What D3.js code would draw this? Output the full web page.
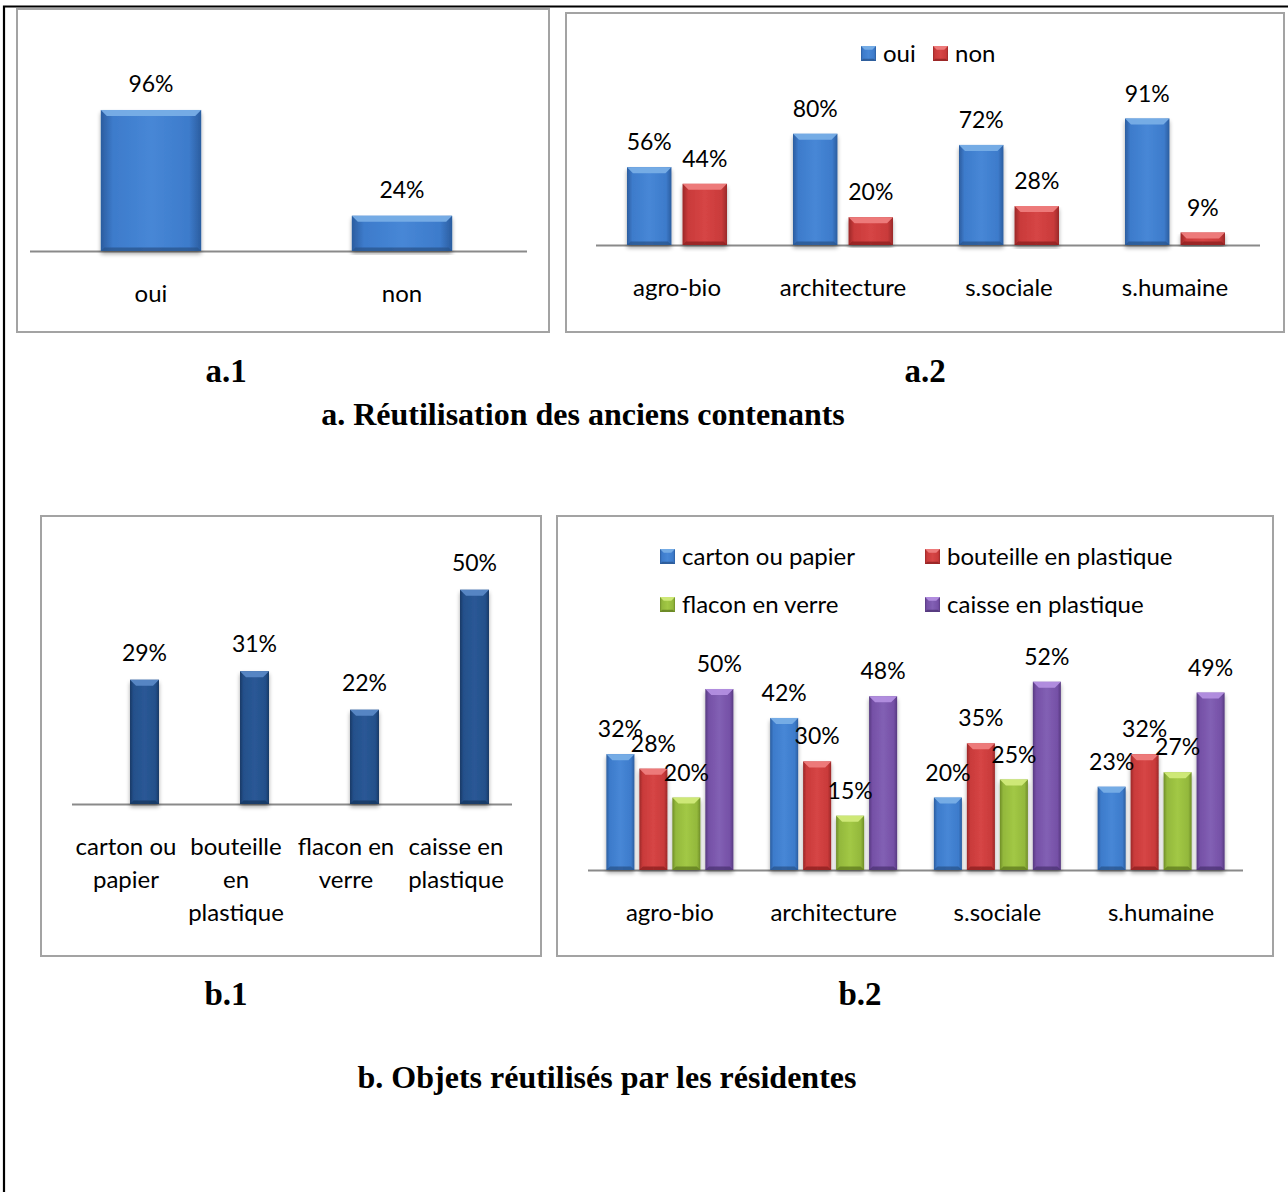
<!DOCTYPE html>
<html>
<head>
<meta charset="utf-8">
<script src="https://cdn.jsdelivr.net/npm/d3@7/dist/d3.min.js"></script>
<style>
html,body{margin:0;padding:0;background:#fff;}
svg{display:block;}
</style>
</head>
<body>
<svg id="chart" width="1288" height="1192"></svg>
<script>
// ---------------- DATA ----------------
const a1Categories = ["oui", "non"];
const a1Values = [96, 24];

const a2Categories = ["agro-bio", "architecture", "s.sociale", "s.humaine"];
const a2Series = ["oui", "non"];
const a2Oui = [56, 80, 72, 91];
const a2Non = [44, 20, 28, 9];

const b1Categories = ["carton ou papier", "bouteille en plastique", "flacon en verre", "caisse en plastique"];
const b1TickLabels = [["carton ou", "papier"], ["bouteille", "en", "plastique"], ["flacon en", "verre"], ["caisse en", "plastique"]];
const b1Values = [29, 31, 22, 50];

const b2Categories = ["agro-bio", "architecture", "s.sociale", "s.humaine"];
const b2Series = ["carton ou papier", "bouteille en plastique", "flacon en verre", "caisse en plastique"];
const b2Carton = [32, 42, 20, 23];
const b2Bouteille = [28, 30, 35, 32];
const b2Flacon = [20, 15, 25, 27];
const b2Caisse = [50, 48, 52, 49];

const captions = ["a.1", "a.2", "a. Réutilisation des anciens contenants", "b.1", "b.2", "b. Objets réutilisés par les résidentes"];

// ---------------- STYLE ----------------
const SANS = "Lato, 'Open Sans', 'DejaVu Sans', sans-serif";
const SERIF = "'Liberation Serif', 'Times New Roman', serif";
const TXT = 24, PCT = 23;
const palettes = {
  blue:   {mid:"#3d7bcb", light:"#4787d6", dark:"#2b5d9f", top:"#78aee6", bottom:"#2a5690"},
  red:    {mid:"#c93a3a", light:"#d64545", dark:"#9a2828", top:"#ee7d7d", bottom:"#8e2222"},
  green:  {mid:"#93b83c", light:"#a2c845", dark:"#6f8d28", top:"#d1ea7a", bottom:"#627d22"},
  purple: {mid:"#7550a6", light:"#8260b4", dark:"#573a80", top:"#b38fe0", bottom:"#4f3575"},
  navy:   {mid:"#24508a", light:"#2a5896", dark:"#183a66", top:"#5a88c6", bottom:"#163660"}
};

const svg = d3.select("#chart");
const defs = svg.append("defs");

Object.entries(palettes).forEach(([k, p]) => {
  const g = defs.append("linearGradient").attr("id", "grad-" + k)
    .attr("x1", "0").attr("x2", "1").attr("y1", "0").attr("y2", "0");
  g.append("stop").attr("offset", "0").attr("stop-color", p.dark);
  g.append("stop").attr("offset", "0.12").attr("stop-color", p.mid);
  g.append("stop").attr("offset", "0.5").attr("stop-color", p.light);
  g.append("stop").attr("offset", "0.88").attr("stop-color", p.mid);
  g.append("stop").attr("offset", "1").attr("stop-color", p.dark);
});
const sh = defs.append("filter").attr("id", "shadow").attr("x", "-20%").attr("y", "-5%").attr("width", "140%").attr("height", "115%");
sh.append("feGaussianBlur").attr("in", "SourceAlpha").attr("stdDeviation", 2.2);
sh.append("feOffset").attr("dx", 0).attr("dy", 3).attr("result", "ob");
sh.append("feComponentTransfer").append("feFuncA").attr("type", "linear").attr("slope", 0.35);
const m = sh.append("feMerge");
m.append("feMergeNode");
m.append("feMergeNode").attr("in", "SourceGraphic");

// Outer page frame
svg.append("path")
  .attr("d", "M4,1192 L4,6.5 L1288,6.5")
  .attr("fill", "none").attr("stroke", "#000").attr("stroke-width", 2.2);

// Panel frames
function panel(x0, y0, x1, y1) {
  svg.append("rect").attr("x", x0).attr("y", y0).attr("width", x1 - x0).attr("height", y1 - y0)
    .attr("fill", "#fff").attr("stroke", "#a3a3a3").attr("stroke-width", 2);
}
panel(17, 9, 549, 332);
panel(566, 13, 1284, 332);
panel(41, 516, 541, 956);
panel(557, 516, 1273, 956);

// Bevelled bar
function bar(g, x, y0, w, base, pal) {
  const h = base - y0;
  const grp = g.append("g").attr("filter", "url(#shadow)");
  grp.append("rect").attr("x", x).attr("y", y0).attr("width", w).attr("height", h)
    .attr("fill", "url(#grad-" + pal + ")");
  const p = palettes[pal];
  const bev = Math.min(6, h / 2, w / 4);
  grp.append("polygon")
    .attr("points", [[x, y0], [x + w, y0], [x + w - bev, y0 + bev], [x + bev, y0 + bev]].map(d => d.join(",")).join(" "))
    .attr("fill", p.top).attr("opacity", 0.95);
  grp.append("polygon")
    .attr("points", [[x, base], [x + w, base], [x + w - bev * 0.6, base - bev * 0.6], [x + bev * 0.6, base - bev * 0.6]].map(d => d.join(",")).join(" "))
    .attr("fill", p.bottom).attr("opacity", 0.8);
  return grp;
}

function legendSquare(g, x, y, s, pal) {
  bar(g, x, y, s, y + s, pal).attr("filter", null);
}

function axisLine(g, x0, x1, y) {
  g.append("line").attr("x1", x0).attr("x2", x1).attr("y1", y).attr("y2", y)
    .attr("stroke", "#8a8a8a").attr("stroke-width", 2);
}

function label(g, x, y, txt, size) {
  g.append("text").attr("x", x).attr("y", y).attr("dy", "0.35em")
    .attr("text-anchor", "middle").attr("font-family", SANS).attr("font-size", size)
    .attr("fill", "#000").text(txt);
}

// ---------- a.1 ----------
{
  const g = svg.append("g");
  const base = 251;
  const x = d3.scaleBand().domain(a1Categories).range([30, 527]).paddingInner(0.6).paddingOuter(0.29);
  const y = d3.scaleLinear().domain([0, 100]).range([base, base - 146.9]);
  axisLine(g, 30, 527, base + 0.5);
  a1Categories.forEach((c, i) => {
    bar(g, x(c) - 2, y(a1Values[i]), x.bandwidth(), base, "blue");
    label(g, x(c) - 2 + x.bandwidth() / 2, y(a1Values[i]) - 26, a1Values[i] + "%", PCT);
    label(g, x(c) - 2 + x.bandwidth() / 2, base + 43, c, TXT);
  });
}

// ---------- a.2 ----------
{
  const g = svg.append("g");
  const base = 245;
  const x0 = d3.scaleBand().domain(a2Categories).range([596, 1260]);
  const gw = 100;
  const x1 = d3.scaleBand().domain(a2Series).range([(x0.step() - gw) / 2 - 2, (x0.step() + gw) / 2 - 2]).paddingInner(0.2);
  const y = d3.scaleLinear().domain([0, 100]).range([base, base - 139]);
  const vals = {oui: a2Oui, non: a2Non};
  const pals = {oui: "blue", non: "red"};
  axisLine(g, 596, 1260, base + 0.5);
  a2Categories.forEach((c, i) => {
    a2Series.forEach(s => {
      const xx = x0(c) + x1(s);
      bar(g, xx, y(vals[s][i]), x1.bandwidth(), base, pals[s]);
      label(g, xx + x1.bandwidth() / 2, y(vals[s][i]) - 25, vals[s][i] + "%", PCT);
    });
    label(g, x0(c) + x0.bandwidth() / 2 - 2, base + 43, c, TXT);
  });
  // legend
  const leg = [{s: "oui", x: 861}, {s: "non", x: 933}];
  leg.forEach(d => {
    legendSquare(g, d.x, 46, 15, pals[d.s]);
    g.append("text").attr("x", d.x + 22).attr("y", 54).attr("dy", "0.35em")
      .attr("font-family", SANS).attr("font-size", TXT).text(d.s);
  });
}

// ---------- b.1 ----------
{
  const g = svg.append("g");
  const base = 804;
  const x = d3.scaleBand().domain(b1Categories).range([72, 512]);
  const y = d3.scaleLinear().domain([0, 100]).range([base, base - 428.5]);
  const bw = 29, off = 17.5;
  axisLine(g, 72, 512, base + 0.5);
  b1Categories.forEach((c, i) => {
    const cx = x(c) + x.bandwidth() / 2 + off;
    bar(g, cx - bw / 2, y(b1Values[i]), bw, base, "navy");
    label(g, cx, y(b1Values[i]) - 27, b1Values[i] + "%", PCT);
    b1TickLabels[i].forEach((ln, j) => {
      label(g, x(c) + x.bandwidth() / 2 - 1, base + 43 + j * 33, ln, TXT);
    });
  });
}

// ---------- b.2 ----------
{
  const g = svg.append("g");
  const base = 870;
  const x0 = d3.scaleBand().domain(b2Categories).range([588, 1243]);
  const gw = 127;
  const x1 = d3.scaleBand().domain(b2Series).range([(x0.step() - gw) / 2, (x0.step() + gw) / 2]).paddingInner(0.15);
  const y = d3.scaleLinear().domain([0, 100]).range([base, base - 362]);
  const vals = [b2Carton, b2Bouteille, b2Flacon, b2Caisse];
  const pals = ["blue", "red", "green", "purple"];
  axisLine(g, 588, 1243, base + 0.5);
  b2Categories.forEach((c, i) => {
    b2Series.forEach((s, k) => {
      const xx = x0(c) + x1(s);
      bar(g, xx, y(vals[k][i]), x1.bandwidth(), base, pals[k]);
    });
  });
  b2Categories.forEach((c, i) => {
    b2Series.forEach((s, k) => {
      const xx = x0(c) + x1(s);
      label(g, xx + x1.bandwidth() / 2, y(vals[k][i]) - 25, vals[k][i] + "%", PCT);
    });
    label(g, x0(c) + x0.bandwidth() / 2, base + 43, c, TXT);
  });
  const legPos = [[660, 549], [925, 549], [660, 597], [925, 597]];
  b2Series.forEach((s, k) => {
    legendSquare(g, legPos[k][0], legPos[k][1], 15, pals[k]);
    g.append("text").attr("x", legPos[k][0] + 22).attr("y", legPos[k][1] + 8).attr("dy", "0.35em")
      .attr("font-family", SANS).attr("font-size", TXT).text(s);
  });
}

// ---------- captions ----------
const capPos = [[226, 382, 33], [925, 382, 33], [583, 425, 32], [226, 1005, 33], [860, 1005, 33], [607, 1088, 32]];
captions.forEach((t, i) => {
  svg.append("text").attr("x", capPos[i][0]).attr("y", capPos[i][1])
    .attr("text-anchor", "middle").attr("font-family", SERIF).attr("font-weight", "bold")
    .attr("font-size", capPos[i][2]).attr("fill", "#000").text(t);
});
</script>
</body>
</html>
